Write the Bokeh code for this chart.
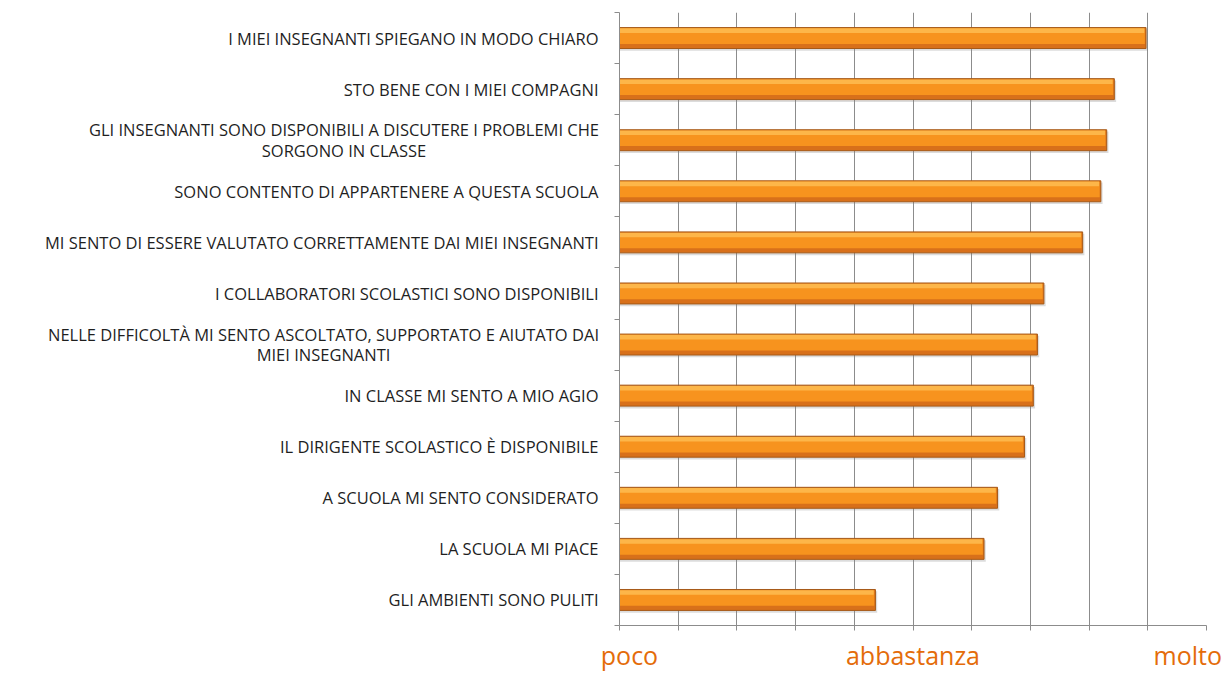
from bokeh.plotting import figure
from bokeh.layouts import row
from bokeh.models import ColumnDataSource, FixedTicker, Range1d
from bokeh.embed import file_html
from bokeh.resources import INLINE
from bokeh.core.properties import value

# ---- data (top to bottom) ----
items = [
    "I MIEI INSEGNANTI SPIEGANO IN MODO CHIARO",
    "STO BENE CON I MIEI COMPAGNI",
    "GLI INSEGNANTI SONO DISPONIBILI A DISCUTERE I PROBLEMI CHE\nSORGONO IN CLASSE",
    "SONO CONTENTO DI APPARTENERE A QUESTA SCUOLA",
    "MI SENTO DI ESSERE VALUTATO CORRETTAMENTE DAI MIEI INSEGNANTI",
    "I COLLABORATORI SCOLASTICI SONO DISPONIBILI",
    "NELLE DIFFICOLTÀ MI SENTO ASCOLTATO, SUPPORTATO E AIUTATO DAI\nMIEI INSEGNANTI",
    "IN CLASSE MI SENTO A MIO AGIO",
    "IL DIRIGENTE SCOLASTICO È DISPONIBILE",
    "A SCUOLA MI SENTO CONSIDERATO",
    "LA SCUOLA MI PIACE",
    "GLI AMBIENTI SONO PULITI",
]
scores = [8.97, 8.43, 8.30, 8.20, 7.89, 7.23, 7.12, 7.05, 6.90, 6.44, 6.21, 4.36]
scale_labels = ["poco", "abbastanza", "molto"]
scale_values = [0, 5, 10]
x_min, x_max = 0, 10

n = len(items)
ys = [n - i - 0.5 for i in range(n)]
y_range = Range1d(0, n)

FONT = "Open Sans"
LABEL_SIZE = 16.5
H = 674
TOP, BOTTOM = 12, 47
LW = 600  # width of the label column in pixels

# ---------- label column ----------
lab = figure(width=LW, height=H, output_backend="svg", toolbar_location=None,
             x_range=(0, LW), y_range=y_range, x_axis_type=None, y_axis_type=None,
             min_border_left=0, min_border_right=0, min_border_top=TOP, min_border_bottom=BOTTOM)
lab.outline_line_color = None
lab.grid.visible = False

right_edge = LW - 2
single_y = [y for y, t in zip(ys, items) if "\n" not in t]
single_t = [t for t in items if "\n" not in t]
lab.text(x=[right_edge] * len(single_t), y=single_y, text=single_t,
         text_align="right", text_baseline="middle", text_font=value(FONT),
         text_font_size=f"{LABEL_SIZE}px", text_color="#1f1f1f")

# two-line labels: second line centred under the first (right-aligned) line
first_line_w = [509, 550]  # rendered width of each first line, px
multi_y = [y for y, t in zip(ys, items) if "\n" in t]
multi_t = [t for t in items if "\n" in t]
lab.text(x=[right_edge - w / 2 for w in first_line_w], y=multi_y, text=multi_t,
         text_align="center", text_baseline="middle", text_font=value(FONT),
         text_font_size=f"{LABEL_SIZE}px", text_color="#1f1f1f", text_line_height=0.9)

# ---------- chart ----------
p = figure(width=1224 - LW, height=H, output_backend="svg", toolbar_location=None,
           x_range=(x_min, x_max), y_range=y_range,
           min_border_left=19, min_border_right=18, min_border_top=TOP, min_border_bottom=BOTTOM)
p.outline_line_color = None

p.xgrid.ticker = FixedTicker(ticks=list(range(x_min, x_max + 1)))
p.xgrid.grid_line_color = "#8c8c8c"
p.xgrid.grid_line_width = 1
p.ygrid.grid_line_color = None

label_nudge = [0.17, 0.0, -0.32]  # keeps end labels inside the picture
xt = [v + d for v, d in zip(scale_values, label_nudge)]
p.xaxis.ticker = FixedTicker(ticks=xt, minor_ticks=list(range(x_min, x_max + 1)))
p.xaxis.major_label_overrides = {t: s for t, s in zip(xt, scale_labels)}
p.xaxis.major_label_text_font = FONT
p.xaxis.major_label_text_font_size = "25px"
p.xaxis.major_label_text_color = "#E46C0A"
p.xaxis.major_label_standoff = 7

p.yaxis.ticker = FixedTicker(ticks=[], minor_ticks=list(range(0, n + 1)))
p.yaxis.major_label_text_font_size = "0px"
p.yaxis.major_label_standoff = 0

for ax in (p.xaxis[0], p.yaxis[0]):
    ax.axis_line_color = "#8c8c8c"
    ax.major_tick_line_color = None
    ax.major_tick_in = 0
    ax.major_tick_out = 0
    ax.minor_tick_line_color = "#8c8c8c"
    ax.minor_tick_out = 5
    ax.minor_tick_in = 0

src = ColumnDataSource(dict(y=ys, v=scores, item=items))

# shadow
p.hbar(y=[y - 0.04 for y in ys], left=0, right=[v + 0.03 for v in scores], height=0.42,
       fill_color="#808080", fill_alpha=0.28, line_color=None)
# base (darker bottom)
p.hbar(y="y", left=0, right="v", height=0.41, source=src,
       fill_color="#D8701A", line_color="#A65A18", line_width=1)
# body
p.hbar(y=[y + 0.035 for y in ys], left=0, right=[v - 0.02 for v in scores], height=0.30,
       fill_color="#F7931E", line_color=None)
# highlight
p.hbar(y=[y + 0.145 for y in ys], left=0, right=[v - 0.03 for v in scores], height=0.09,
       fill_color="#FDBA4E", line_color=None, fill_alpha=0.9)

layout = row(lab, p, spacing=0)
open("out.html", "w").write(file_html(layout, INLINE))
